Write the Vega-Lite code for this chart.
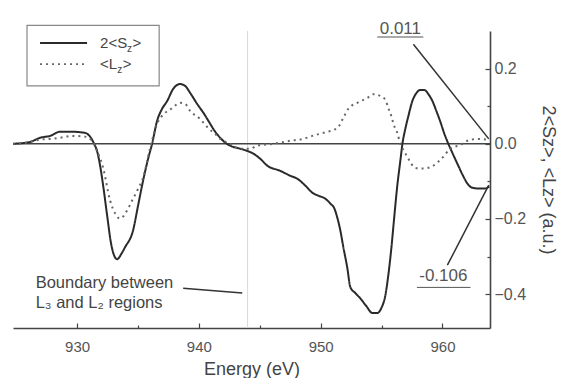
{
  "$schema": "https://vega.github.io/schema/vega-lite/v6.json",
  "width": 477,
  "height": 297,
  "padding": {"left": 13, "top": 31, "right": 72, "bottom": 50},
  "autosize": {"type": "none"},
  "background": "white",
  "config": {
    "view": {"stroke": null},
    "font": "Liberation Sans",
    "axis": {"grid": false, "domainColor": "#444", "domainWidth": 1.6, "tickColor": "#444", "labelColor": "#555", "titleColor": "#444", "labelFont": "Liberation Sans", "titleFont": "Liberation Sans", "titleFontWeight": "normal"}
  },
  "resolve": {"axis": {"x": "independent", "y": "independent"}},
  "datasets": {
    "spec": [
      {"E": 924.74, "V": 0.0, "s": "S"},
      {"E": 926.14, "V": 0.005, "s": "S"},
      {"E": 926.96, "V": 0.016, "s": "S"},
      {"E": 927.78, "V": 0.021, "s": "S"},
      {"E": 928.6, "V": 0.032, "s": "S"},
      {"E": 929.59, "V": 0.032, "s": "S"},
      {"E": 930.66, "V": 0.029, "s": "S"},
      {"E": 931.07, "V": 0.019, "s": "S"},
      {"E": 931.4, "V": 0.0, "s": "S"},
      {"E": 931.64, "V": -0.019, "s": "S"},
      {"E": 931.89, "V": -0.058, "s": "S"},
      {"E": 932.14, "V": -0.111, "s": "S"},
      {"E": 932.47, "V": -0.191, "s": "S"},
      {"E": 932.79, "V": -0.265, "s": "S"},
      {"E": 933.04, "V": -0.297, "s": "S"},
      {"E": 933.29, "V": -0.307, "s": "S"},
      {"E": 933.7, "V": -0.289, "s": "S"},
      {"E": 933.94, "V": -0.275, "s": "S"},
      {"E": 934.6, "V": -0.23, "s": "S"},
      {"E": 935.01, "V": -0.164, "s": "S"},
      {"E": 935.42, "V": -0.098, "s": "S"},
      {"E": 935.83, "V": -0.04, "s": "S"},
      {"E": 936.16, "V": 0.0, "s": "S"},
      {"E": 936.57, "V": 0.061, "s": "S"},
      {"E": 936.98, "V": 0.093, "s": "S"},
      {"E": 937.4, "V": 0.114, "s": "S"},
      {"E": 937.89, "V": 0.146, "s": "S"},
      {"E": 938.46, "V": 0.159, "s": "S"},
      {"E": 938.87, "V": 0.154, "s": "S"},
      {"E": 939.29, "V": 0.135, "s": "S"},
      {"E": 939.86, "V": 0.106, "s": "S"},
      {"E": 940.44, "V": 0.079, "s": "S"},
      {"E": 940.93, "V": 0.053, "s": "S"},
      {"E": 941.34, "V": 0.032, "s": "S"},
      {"E": 941.75, "V": 0.016, "s": "S"},
      {"E": 942.16, "V": 0.003, "s": "S"},
      {"E": 942.57, "V": -0.005, "s": "S"},
      {"E": 943.39, "V": -0.013, "s": "S"},
      {"E": 943.97, "V": -0.019, "s": "S"},
      {"E": 944.46, "V": -0.026, "s": "S"},
      {"E": 945.04, "V": -0.04, "s": "S"},
      {"E": 945.61, "V": -0.058, "s": "S"},
      {"E": 946.68, "V": -0.072, "s": "S"},
      {"E": 947.5, "V": -0.085, "s": "S"},
      {"E": 948.08, "V": -0.093, "s": "S"},
      {"E": 948.73, "V": -0.111, "s": "S"},
      {"E": 949.31, "V": -0.13, "s": "S"},
      {"E": 949.8, "V": -0.138, "s": "S"},
      {"E": 950.38, "V": -0.146, "s": "S"},
      {"E": 950.79, "V": -0.159, "s": "S"},
      {"E": 951.12, "V": -0.172, "s": "S"},
      {"E": 951.36, "V": -0.196, "s": "S"},
      {"E": 951.61, "V": -0.23, "s": "S"},
      {"E": 951.86, "V": -0.275, "s": "S"},
      {"E": 952.19, "V": -0.331, "s": "S"},
      {"E": 952.43, "V": -0.381, "s": "S"},
      {"E": 952.84, "V": -0.397, "s": "S"},
      {"E": 953.25, "V": -0.411, "s": "S"},
      {"E": 953.75, "V": -0.432, "s": "S"},
      {"E": 954.24, "V": -0.45, "s": "S"},
      {"E": 954.65, "V": -0.45, "s": "S"},
      {"E": 954.98, "V": -0.437, "s": "S"},
      {"E": 955.31, "V": -0.403, "s": "S"},
      {"E": 955.55, "V": -0.35, "s": "S"},
      {"E": 955.8, "V": -0.278, "s": "S"},
      {"E": 956.05, "V": -0.191, "s": "S"},
      {"E": 956.29, "V": -0.111, "s": "S"},
      {"E": 956.54, "V": -0.045, "s": "S"},
      {"E": 956.71, "V": 0.0, "s": "S"},
      {"E": 956.95, "V": 0.04, "s": "S"},
      {"E": 957.2, "V": 0.074, "s": "S"},
      {"E": 957.53, "V": 0.114, "s": "S"},
      {"E": 957.86, "V": 0.135, "s": "S"},
      {"E": 958.18, "V": 0.143, "s": "S"},
      {"E": 958.51, "V": 0.143, "s": "S"},
      {"E": 958.84, "V": 0.132, "s": "S"},
      {"E": 959.17, "V": 0.114, "s": "S"},
      {"E": 959.5, "V": 0.087, "s": "S"},
      {"E": 959.83, "V": 0.058, "s": "S"},
      {"E": 960.16, "V": 0.026, "s": "S"},
      {"E": 960.48, "V": 0.0, "s": "S"},
      {"E": 960.81, "V": -0.024, "s": "S"},
      {"E": 961.22, "V": -0.053, "s": "S"},
      {"E": 961.64, "V": -0.082, "s": "S"},
      {"E": 962.05, "V": -0.106, "s": "S"},
      {"E": 962.46, "V": -0.117, "s": "S"},
      {"E": 962.95, "V": -0.119, "s": "S"},
      {"E": 963.44, "V": -0.119, "s": "S"},
      {"E": 963.85, "V": -0.114, "s": "S"},
      {"E": 924.74, "V": 0.0, "s": "L"},
      {"E": 926.14, "V": 0.005, "s": "L"},
      {"E": 926.96, "V": 0.011, "s": "L"},
      {"E": 927.78, "V": 0.013, "s": "L"},
      {"E": 928.6, "V": 0.016, "s": "L"},
      {"E": 929.59, "V": 0.021, "s": "L"},
      {"E": 930.66, "V": 0.019, "s": "L"},
      {"E": 931.23, "V": 0.008, "s": "L"},
      {"E": 931.64, "V": -0.019, "s": "L"},
      {"E": 932.14, "V": -0.064, "s": "L"},
      {"E": 932.71, "V": -0.151, "s": "L"},
      {"E": 933.12, "V": -0.185, "s": "L"},
      {"E": 933.53, "V": -0.199, "s": "L"},
      {"E": 934.11, "V": -0.177, "s": "L"},
      {"E": 934.52, "V": -0.151, "s": "L"},
      {"E": 934.93, "V": -0.125, "s": "L"},
      {"E": 935.42, "V": -0.09, "s": "L"},
      {"E": 936.0, "V": -0.011, "s": "L"},
      {"E": 936.57, "V": 0.053, "s": "L"},
      {"E": 937.23, "V": 0.082, "s": "L"},
      {"E": 937.81, "V": 0.095, "s": "L"},
      {"E": 938.46, "V": 0.109, "s": "L"},
      {"E": 938.87, "V": 0.106, "s": "L"},
      {"E": 939.29, "V": 0.087, "s": "L"},
      {"E": 940.11, "V": 0.066, "s": "L"},
      {"E": 940.76, "V": 0.042, "s": "L"},
      {"E": 941.34, "V": 0.026, "s": "L"},
      {"E": 941.75, "V": 0.013, "s": "L"},
      {"E": 942.57, "V": 0.0, "s": "L"},
      {"E": 943.39, "V": -0.013, "s": "L"},
      {"E": 944.21, "V": -0.013, "s": "L"},
      {"E": 944.79, "V": -0.005, "s": "L"},
      {"E": 946.1, "V": 0.0, "s": "L"},
      {"E": 947.5, "V": 0.008, "s": "L"},
      {"E": 948.57, "V": 0.013, "s": "L"},
      {"E": 949.31, "V": 0.021, "s": "L"},
      {"E": 950.21, "V": 0.029, "s": "L"},
      {"E": 951.36, "V": 0.042, "s": "L"},
      {"E": 951.86, "V": 0.069, "s": "L"},
      {"E": 952.27, "V": 0.093, "s": "L"},
      {"E": 953.0, "V": 0.109, "s": "L"},
      {"E": 953.83, "V": 0.122, "s": "L"},
      {"E": 954.32, "V": 0.132, "s": "L"},
      {"E": 954.9, "V": 0.127, "s": "L"},
      {"E": 955.31, "V": 0.117, "s": "L"},
      {"E": 955.55, "V": 0.095, "s": "L"},
      {"E": 955.8, "V": 0.074, "s": "L"},
      {"E": 955.97, "V": 0.053, "s": "L"},
      {"E": 956.29, "V": 0.029, "s": "L"},
      {"E": 956.54, "V": 0.0, "s": "L"},
      {"E": 956.87, "V": -0.021, "s": "L"},
      {"E": 957.2, "V": -0.04, "s": "L"},
      {"E": 957.77, "V": -0.064, "s": "L"},
      {"E": 958.43, "V": -0.066, "s": "L"},
      {"E": 959.25, "V": -0.058, "s": "L"},
      {"E": 959.99, "V": -0.037, "s": "L"},
      {"E": 960.65, "V": -0.013, "s": "L"},
      {"E": 961.47, "V": -0.003, "s": "L"},
      {"E": 962.05, "V": 0.008, "s": "L"},
      {"E": 962.87, "V": 0.013, "s": "L"},
      {"E": 963.69, "V": 0.011, "s": "L"}
    ],
    "notes": [
      {"E": 956.54, "V": 0.305, "t": "0.011"},
      {"E": 960.07, "V": -0.352, "t": "-0.106"}
    ],
    "underlines": [
      {"E": 954.65, "E2": 958.43, "V": 0.284},
      {"E": 957.9, "E2": 962.3, "V": -0.382}
    ],
    "leaders": [
      {"E": 957.61, "V": 0.265, "E2": 963.8, "V2": 0.013},
      {"E": 960.4, "V": -0.323, "E2": 963.8, "V2": -0.11},
      {"E": 938.71, "V": -0.384, "E2": 943.56, "V2": -0.397}
    ],
    "boundary": [
      {"E": 926.6, "V": -0.371, "t": "Boundary between"},
      {"E": 926.6, "V": -0.423, "t": "L₃ and L₂ regions"}
    ],
    "legendText": [
      {"E": 931.89, "V": 0.268, "t": "2<S"},
      {"E": 934.55, "V": 0.268, "t": ">"},
      {"E": 931.89, "V": 0.212, "t": "<L"},
      {"E": 933.75, "V": 0.212, "t": ">"}
    ],
    "legendSub": [
      {"E": 934.1, "V": 0.253, "t": "z"},
      {"E": 933.3, "V": 0.197, "t": "z"}
    ]
  },
  "layer": [
    {
      "data": {"values": [{"E": 944.0}]},
      "mark": {"type": "rule", "color": "#d8d8d8", "strokeWidth": 1},
      "encoding": {
        "x": {"field": "E", "type": "quantitative",
          "axis": {"orient": "bottom", "values": [935, 945, 955], "labels": false, "domain": false, "title": null, "tickSize": -3, "tickWidth": 1.2}}
      }
    },
    {
      "data": {"values": [{"V": 0}]},
      "mark": {"type": "rule", "color": "#444", "strokeWidth": 1.5},
      "encoding": {
        "y": {"field": "V", "type": "quantitative",
          "axis": {"orient": "right", "values": [-0.3, -0.1, 0.1], "labels": false, "domain": false, "title": null, "tickSize": -3, "tickWidth": 1.2}}
      }
    },
    {
      "data": {"values": [{"E": 925.89, "E2": 936.74, "V": 0.315, "V2": 0.154}]},
      "mark": {"type": "rect", "fill": "white", "stroke": "#888", "strokeWidth": 1.2, "clip": false},
      "encoding": {
        "x": {"field": "E", "type": "quantitative", "axis": null},
        "x2": {"field": "E2"},
        "y": {"field": "V", "type": "quantitative", "axis": null},
        "y2": {"field": "V2"}
      }
    },
    {
      "data": {"values": [{"E": 926.96, "E2": 930.82, "V": 0.268}]},
      "mark": {"type": "rule", "color": "#2a2a2a", "strokeWidth": 2},
      "encoding": {
        "x": {"field": "E", "type": "quantitative", "axis": null},
        "x2": {"field": "E2"},
        "y": {"field": "V", "type": "quantitative", "axis": null}
      }
    },
    {
      "data": {"values": [{"E": 926.96, "E2": 930.82, "V": 0.212}]},
      "mark": {"type": "rule", "color": "#666", "strokeWidth": 1.6, "strokeDash": [2, 4]},
      "encoding": {
        "x": {"field": "E", "type": "quantitative", "axis": null},
        "x2": {"field": "E2"},
        "y": {"field": "V", "type": "quantitative", "axis": null}
      }
    },
    {
      "data": {"name": "legendText"},
      "mark": {"type": "text", "fontSize": 15, "color": "#444", "align": "left", "baseline": "middle", "clip": false},
      "encoding": {
        "x": {"field": "E", "type": "quantitative", "axis": null},
        "y": {"field": "V", "type": "quantitative", "axis": null},
        "text": {"field": "t"}
      }
    },
    {
      "data": {"name": "legendSub"},
      "mark": {"type": "text", "fontSize": 10, "color": "#444", "align": "left", "baseline": "middle", "clip": false},
      "encoding": {
        "x": {"field": "E", "type": "quantitative", "axis": null},
        "y": {"field": "V", "type": "quantitative", "axis": null},
        "text": {"field": "t"}
      }
    },
    {
      "data": {"name": "spec"},
      "mark": {"type": "line", "interpolate": "monotone", "strokeWidth": 2},
      "encoding": {
        "x": {
          "field": "E", "type": "quantitative",
          "scale": {"domain": [924.74, 963.9], "nice": false, "zero": false},
          "axis": {"orient": "bottom", "values": [930, 940, 950, 960], "title": "Energy (eV)", "tickSize": -5, "tickWidth": 1.2, "labelPadding": 16, "labelFontSize": 15, "titleFontSize": 18, "titlePadding": 6, "labelFlush": false}
        },
        "y": {
          "field": "V", "type": "quantitative",
          "scale": {"domain": [-0.49, 0.3], "nice": false, "zero": false},
          "axis": {"orient": "right", "values": [-0.4, -0.2, 0, 0.2], "format": ".1f", "title": "2<Sz>, <Lz> (a.u.)", "tickSize": -5, "tickWidth": 1.2, "labelPadding": 9, "labelFontSize": 16, "titleFontSize": 18, "titleAngle": 90, "titlePadding": 13, "labelFlush": false}
        },
        "color": {
          "field": "s", "type": "nominal",
          "scale": {"domain": ["S", "L"], "range": ["#2a2a2a", "#666666"]},
          "legend": null
        },
        "strokeDash": {
          "field": "s", "type": "nominal",
          "scale": {"domain": ["S", "L"], "range": [[1, 0], [2, 4]]},
          "legend": null
        }
      }
    },
    {
      "data": {"name": "leaders"},
      "mark": {"type": "rule", "color": "#333", "strokeWidth": 1.5},
      "encoding": {
        "x": {"field": "E", "type": "quantitative", "axis": null},
        "y": {"field": "V", "type": "quantitative", "axis": null},
        "x2": {"field": "E2"},
        "y2": {"field": "V2"}
      }
    },
    {
      "data": {"name": "underlines"},
      "mark": {"type": "rule", "color": "#555", "strokeWidth": 1, "clip": false},
      "encoding": {
        "x": {"field": "E", "type": "quantitative", "axis": null},
        "x2": {"field": "E2"},
        "y": {"field": "V", "type": "quantitative", "axis": null}
      }
    },
    {
      "data": {"name": "notes"},
      "mark": {"type": "text", "fontSize": 17, "color": "#555", "align": "center", "baseline": "middle", "clip": false},
      "encoding": {
        "x": {"field": "E", "type": "quantitative", "axis": null},
        "y": {"field": "V", "type": "quantitative", "axis": null},
        "text": {"field": "t"}
      }
    },
    {
      "data": {"name": "boundary"},
      "mark": {"type": "text", "fontSize": 16.5, "color": "#444", "align": "left", "baseline": "middle"},
      "encoding": {
        "x": {"field": "E", "type": "quantitative", "axis": null},
        "y": {"field": "V", "type": "quantitative", "axis": null},
        "text": {"field": "t"}
      }
    }
  ]
}
